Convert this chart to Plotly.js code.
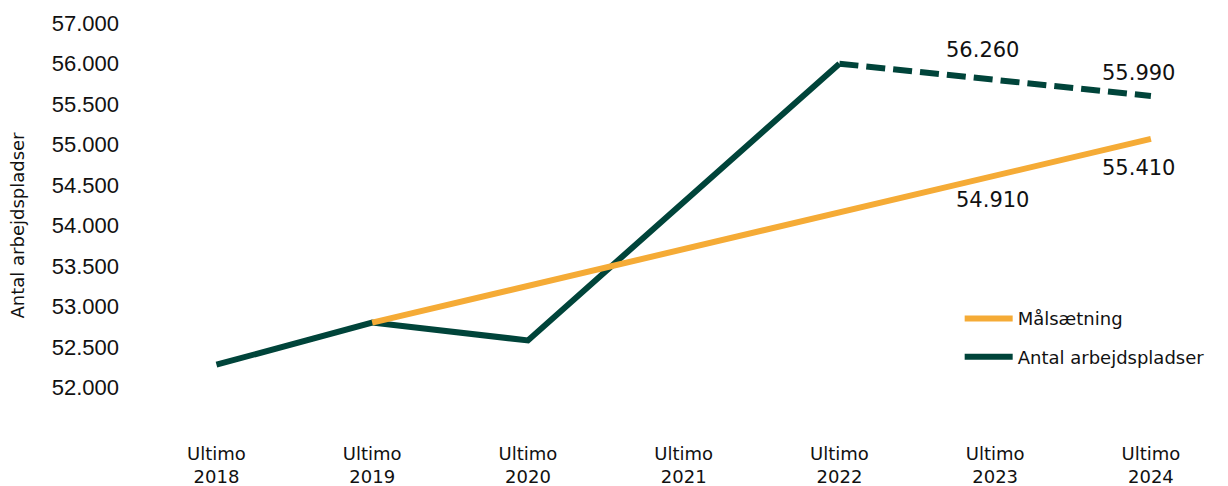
<!DOCTYPE html>
<html>
<head>
<meta charset="utf-8">
<script src="https://cdn.plot.ly/plotly-3.0.1.min.js"></script>
<style>html,body{margin:0;padding:0;background:#fff;}#chart{width:1228px;height:486px;}</style>
</head>
<body>
<div id="chart"></div>
<script>
// ---- data ----
const actualYears = [2018, 2019, 2020, 2022];
const actualValues = [52280, 52800, 52580, 56000];
const forecastYears = [2022, 2024];
const forecastValues = [56000, 55600];
const targetYears = [2019, 2024];
const targetValues = [52800, 55070];
const tickYears = [2018, 2019, 2020, 2021, 2022, 2023, 2024];
const tickLabels = ["Ultimo<br>2018", "Ultimo<br>2019", "Ultimo<br>2020", "Ultimo<br>2021", "Ultimo<br>2022", "Ultimo<br>2023", "Ultimo<br>2024"];
const yTickVals = [52000, 52500, 53000, 53500, 54000, 54500, 55000, 55500, 56000, 56500];
const yTickText = ["52.000", "52.500", "53.000", "53.500", "54.000", "54.500", "55.000", "55.500", "56.000", "57.000"];
const labelTexts = ["56.260", "55.990", "54.910", "55.410"];
const seriesNames = ["Målsætning", "Antal arbejdspladser"];

const GREEN = "#00443A";
const ORANGE = "#F5AB36";
const FONT = "'DejaVu Sans', sans-serif";

const traces = [
  {x: actualYears, y: actualValues, type: "scatter", mode: "lines",
   line: {color: GREEN, width: 6}, name: seriesNames[1], legendrank: 2,
   legendgroup: "b", showlegend: true, hoverinfo: "skip"},
  {x: forecastYears, y: forecastValues, type: "scatter", mode: "lines",
   line: {color: GREEN, width: 6, dash: "19px,8px"}, name: seriesNames[1],
   legendgroup: "b", showlegend: false, hoverinfo: "skip"},
  {x: targetYears, y: targetValues, type: "scatter", mode: "lines",
   line: {color: ORANGE, width: 6}, name: seriesNames[0], legendrank: 1,
   legendgroup: "a", hoverinfo: "skip"}
];

const labelPos = [[2022.92, 56164], [2023.92, 55880], [2022.98, 54312], [2023.92, 54707]];
const annotations = labelTexts.map((t, i) => ({
  x: labelPos[i][0], y: labelPos[i][1], xref: "x", yref: "y", text: t,
  showarrow: false, font: {family: FONT, size: 21, color: "#111"},
  xanchor: "center", yanchor: "middle"
}));

const layout = {
  width: 1228, height: 486,
  margin: {l: 123, r: 7, t: 7, b: 42},
  paper_bgcolor: "#fff", plot_bgcolor: "#fff",
  showlegend: true,
  legend: {x: 0.762, y: 0.329, xanchor: "left", yanchor: "top",
    font: {family: FONT, size: 18, color: "#111"}, tracegroupgap: 12,
    itemwidth: 48,
    bgcolor: "rgba(0,0,0,0)", traceorder: "grouped"},
  xaxis: {range: [2017.4, 2024.45], tickvals: tickYears, ticktext: tickLabels,
    showgrid: false, zeroline: false, showline: false, ticks: "",
    ticklabelstandoff: -3,
    tickfont: {family: FONT, size: 18, color: "#111"}, fixedrange: true},
  yaxis: {range: [51300, 56700], tickvals: yTickVals, ticktext: yTickText,
    showgrid: false, zeroline: false, showline: false, ticks: "",
    ticklabelstandoff: 3,
    tickfont: {family: "'Liberation Sans', Arial, sans-serif", size: 22, color: "#111"},
    title: {text: "Antal arbejdspladser", font: {family: FONT, size: 18, color: "#111"}, standoff: 22},
    fixedrange: true},
  annotations: annotations
};

Plotly.newPlot("chart", traces, layout, {displayModeBar: false, staticPlot: true});
</script>
</body>
</html>
